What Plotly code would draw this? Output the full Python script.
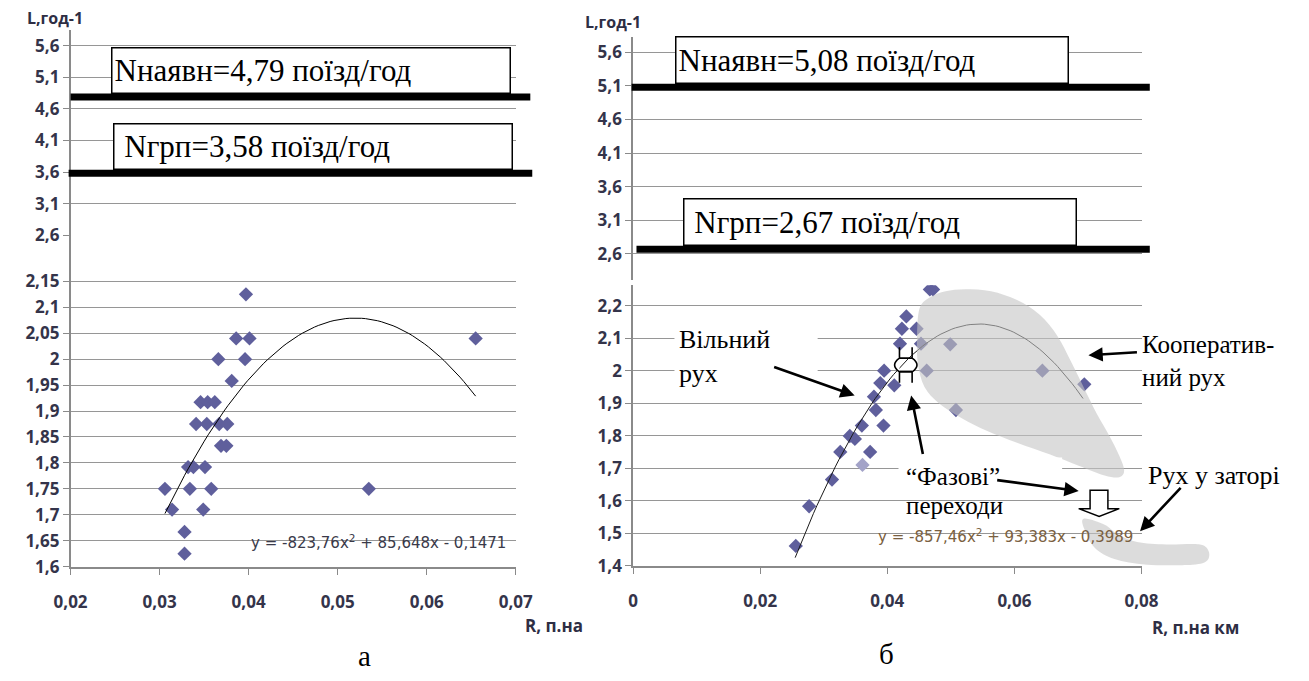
import numpy as np
import plotly.graph_objects as go

W, H = 1309, 681

# ---------------- data ----------------
# chart "а"
left_R = [0.0397, 0.0386, 0.0401, 0.0366, 0.0396, 0.0381, 0.0346, 0.0354, 0.0362,
          0.0341, 0.0353, 0.0367, 0.0376, 0.0369, 0.0375, 0.0332, 0.0338, 0.0351,
          0.0306, 0.0334, 0.0358, 0.0314, 0.0349, 0.0328, 0.0328, 0.0655, 0.0535]
left_L = [2.125, 2.04, 2.04, 2.0, 2.0, 1.958, 1.917, 1.917, 1.917,
          1.875, 1.875, 1.875, 1.875, 1.833, 1.833, 1.792, 1.792, 1.792,
          1.75, 1.75, 1.75, 1.71, 1.71, 1.667, 1.625, 2.04, 1.75]
left_fit = [-823.76, 85.648, -0.1471]
left_fit_span = [0.0306, 0.0655]
left_N_avail = 4.79
left_N_grp = 3.58

# chart "б"
right_R = [0.0467, 0.0472, 0.0430, 0.0423, 0.0446, 0.0420, 0.0453, 0.0499,
           0.0395, 0.0462, 0.0644, 0.0389, 0.0411, 0.0710, 0.0379, 0.0382,
           0.0508, 0.0394, 0.0360, 0.0349, 0.0341, 0.0326, 0.0373, 0.0313,
           0.0277, 0.0256]
right_L = [2.25, 2.25, 2.167, 2.129, 2.129, 2.083, 2.083, 2.081,
           2.0, 2.0, 2.0, 1.962, 1.955, 1.958, 1.92, 1.879,
           1.879, 1.831, 1.831, 1.79, 1.799, 1.75, 1.75, 1.665,
           1.583, 1.461]
right_light_R = [0.0361]
right_light_L = [1.71]
right_fit = [-857.46, 93.383, -0.3989]
right_fit_span = [0.0255, 0.0708]
right_N_avail = 5.08
right_N_grp = 2.67

# ticks
left_xticks = [0.02, 0.03, 0.04, 0.05, 0.06, 0.07]
left_xtext = ["0,02", "0,03", "0,04", "0,05", "0,06", "0,07"]
right_xticks = [0, 0.02, 0.04, 0.06, 0.08]
right_xtext = ["0", "0,02", "0,04", "0,06", "0,08"]
left_low_yticks = [1.6, 1.65, 1.7, 1.75, 1.8, 1.85, 1.9, 1.95, 2.0, 2.05, 2.1, 2.15]
left_low_ytext = ["1,6", "1,65", "1,7", "1,75", "1,8", "1,85", "1,9", "1,95", "2", "2,05", "2,1", "2,15"]
up_yticks = [2.6, 3.1, 3.6, 4.1, 4.6, 5.1, 5.6]
up_ytext = ["2,6", "3,1", "3,6", "4,1", "4,6", "5,1", "5,6"]
right_low_yticks = [1.4, 1.5, 1.6, 1.7, 1.8, 1.9, 2.0, 2.1, 2.2]
right_low_ytext = ["1,4", "1,5", "1,6", "1,7", "1,8", "1,9", "2", "2,1", "2,2"]


# ---------------- helpers ----------------
def X(px):
    return px / W


def Y(py):
    return 1 - py / H


def smooth_path(pts):
    """closed Catmull-Rom spline through pixel points -> paper-coord SVG path"""
    n = len(pts)
    d = f"M{X(pts[0][0]):.5f},{Y(pts[0][1]):.5f}"
    for i in range(n):
        p0, p1, p2, p3 = pts[i - 1], pts[i], pts[(i + 1) % n], pts[(i + 2) % n]
        c1 = (p1[0] + (p2[0] - p0[0]) / 6, p1[1] + (p2[1] - p0[1]) / 6)
        c2 = (p2[0] - (p3[0] - p1[0]) / 6, p2[1] - (p3[1] - p1[1]) / 6)
        d += (f" C{X(c1[0]):.5f},{Y(c1[1]):.5f} {X(c2[0]):.5f},{Y(c2[1]):.5f}"
              f" {X(p2[0]):.5f},{Y(p2[1]):.5f}")
    return d + " Z"


def poly_path(pts):
    return "M" + " L".join(f"{X(a):.5f},{Y(b):.5f}" for a, b in pts) + " Z"


MARK = "#5f5f9c"
TICKFONT = dict(family="Open Sans", size=17, color="#34344a", weight="bold")
SERIF = "Liberation Serif"

fig = go.Figure()

# ---- chart а ----
fig.add_trace(go.Scatter(x=left_R, y=left_L, mode="markers", xaxis="x", yaxis="y",
                         marker=dict(symbol="diamond", size=11, color=MARK)))
lx = np.linspace(left_fit_span[0], left_fit_span[1], 80)
fig.add_trace(go.Scatter(x=lx, y=np.polyval(left_fit, lx), mode="lines", xaxis="x", yaxis="y",
                         line=dict(color="black", width=1)))
# ---- chart б ----
fig.add_trace(go.Scatter(x=right_R, y=right_L, mode="markers", xaxis="x2", yaxis="y3",
                         marker=dict(symbol="diamond", size=11, color=MARK)))
fig.add_trace(go.Scatter(x=right_light_R, y=right_light_L, mode="markers", xaxis="x2", yaxis="y3",
                         marker=dict(symbol="diamond", size=11, color="#a3a3c8")))
rx = np.linspace(right_fit_span[0], right_fit_span[1], 80)
fig.add_trace(go.Scatter(x=rx, y=np.polyval(right_fit, rx), mode="lines", xaxis="x2", yaxis="y3",
                         line=dict(color="#1a1a1a", width=1)))

grid = dict(showgrid=True, gridcolor="#969696", gridwidth=1, zeroline=False,
            showline=True, linecolor="#8a8a8a", linewidth=1.5,
            ticks="outside", ticklen=6, tickcolor="#8a8a8a", tickfont=TICKFONT)
xbase = dict(showgrid=False, zeroline=False, showline=True, linecolor="#8a8a8a", linewidth=1.5,
             ticks="outside", ticklen=7, tickcolor="#8a8a8a", tickfont=TICKFONT,
             ticklabelstandoff=12)

fig.update_layout(
    width=W, height=H, margin=dict(l=0, r=0, t=0, b=0),
    paper_bgcolor="white", plot_bgcolor="white", showlegend=False,
    xaxis=dict(xbase, domain=[X(55), X(512)], range=[0.02, 0.07], anchor="y",
               tickvals=left_xticks, ticktext=left_xtext),
    yaxis=dict(grid, domain=[Y(576), Y(239)], range=[1.6, 2.239], anchor="x",
               tickvals=left_low_yticks, ticktext=left_low_ytext),
    yaxis2=dict(grid, domain=[Y(239), Y(30)], range=[2.6, 5.86], anchor="x",
                tickvals=up_yticks, ticktext=up_ytext),
    xaxis2=dict(xbase, domain=[X(632.5), X(1154.5)], range=[0, 0.08], anchor="y3",
                tickvals=right_xticks, ticktext=right_xtext),
    yaxis3=dict(grid, domain=[Y(575), Y(290)], range=[1.4, 2.2626], anchor="x2",
                tickvals=right_low_yticks, ticktext=right_low_ytext),
    yaxis4=dict(grid, domain=[Y(285), Y(38)], range=[2.205, 5.82], anchor="x2",
                tickvals=up_yticks, ticktext=up_ytext),
)

shapes = []
# thick N lines
for x0, x1, yref, val in [(55, 527, "y2", left_N_avail), (53, 529, "y2", left_N_grp),
                          (631, 1163, "y4", right_N_avail), (636, 1163, "y4", right_N_grp)]:
    shapes.append(dict(type="line", xref="paper", x0=X(x0), x1=X(x1), yref=yref, y0=val, y1=val,
                       line=dict(color="black", width=7), layer="above"))

# grey regions (cooperative motion, congestion)
blob = [(926.7, 313.3), (938.3, 301.7), (953.3, 296), (973.3, 294), (1000, 296), (1026.7, 305),
        (1050, 320), (1068.3, 341.7), (1081.7, 366.7), (1095, 393.3), (1108.3, 420),
        (1121.7, 443.3), (1131.7, 463.3), (1136.7, 478.3), (1131.7, 485), (1116.7, 483.3),
        (1090, 473.3), (1060, 461.7), (1026.7, 450), (996.7, 438.3), (970, 425), (946.7, 410),
        (931.7, 393.3), (925, 370), (924, 343.3)]
tail = [(1095, 527.3), (1116.7, 533.3), (1130, 543), (1150, 551), (1180, 553.5), (1213.3, 553.3),
        (1223.3, 560), (1221.7, 570), (1206.7, 574), (1160, 574), (1126.7, 568.3), (1106.7, 557),
        (1096.7, 540)]
for pts in (blob, tail):
    shapes.append(dict(type="path", xref="paper", yref="paper", path=smooth_path(pts),
                       fillcolor="rgba(196,196,196,0.6)", line=dict(width=0), layer="above"))

# white label backgrounds
for x0, y0, x1, y1 in [(675, 326, 822, 392), (905, 465, 1073, 484)]:
    shapes.append(dict(type="rect", xref="paper", yref="paper", x0=X(x0), x1=X(x1),
                       y0=Y(y1), y1=Y(y0), fillcolor="white", line=dict(width=0), layer="above"))

# hollow block arrow (down)
block = [(1101.7, 498.3), (1120, 498.3), (1120, 517), (1131.7, 517), (1111, 525),
         (1090, 517), (1101.7, 517)]
shapes.append(dict(type="path", xref="paper", yref="paper", path=poly_path(block),
                   fillcolor="white", line=dict(color="black", width=1.5), layer="above"))

# phase transition symbol
sym = (f"M{X(906):.5f},{Y(353):.5f} L{X(906):.5f},{Y(364):.5f} "
       f"Q{X(896):.5f},{Y(371):.5f} {X(906):.5f},{Y(378):.5f} L{X(906):.5f},{Y(389):.5f} "
       f"M{X(919):.5f},{Y(353):.5f} L{X(919):.5f},{Y(364):.5f} "
       f"Q{X(929):.5f},{Y(371):.5f} {X(919):.5f},{Y(378):.5f} L{X(919):.5f},{Y(389):.5f} "
       f"M{X(906):.5f},{Y(364):.5f} L{X(919):.5f},{Y(364):.5f} "
       f"M{X(906):.5f},{Y(378):.5f} L{X(919):.5f},{Y(378):.5f}")
shapes.append(dict(type="path", xref="paper", yref="paper", path=sym,
                   fillcolor="white", line=dict(color="black", width=1.6), layer="above"))
fig.update_layout(shapes=shapes)

ann = []


def nbox(text, xpx, yref, val, w, h):
    ann.append(dict(text=text, xref="paper", x=X(xpx), xanchor="left", yref=yref, y=val,
                    yanchor="bottom", yshift=3.5, showarrow=False, bgcolor="white",
                    bordercolor="black", borderwidth=1.5, borderpad=2, width=w - 7, height=h - 7,
                    align="left", valign="middle",
                    font=dict(family=SERIF, size=31, color="black")))


nbox(f"Nнаявн={str(left_N_avail).replace('.', ',')} поїзд/год", 96.7, "y2", left_N_avail, 400, 47)
nbox(f"\u00a0Nгрп={str(left_N_grp).replace('.', ',')} поїзд/год", 98.3, "y2", left_N_grp, 400, 47)
nbox(f"Nнаявн={str(right_N_avail).replace('.', ',')} поїзд/год", 676, "y4", right_N_avail, 394, 48)
nbox(f"\u00a0Nгрп={str(right_N_grp).replace('.', ',')} поїзд/год", 684, "y4", right_N_grp, 394, 48)


def label(text, xpx, ypx, size=25, anchor="left", family=SERIF, color="black", weight=None, align="left"):
    f = dict(family=family, size=size, color=color)
    if weight:
        f["weight"] = weight
    ann.append(dict(text=text, xref="paper", yref="paper", x=X(xpx), y=Y(ypx), xanchor=anchor,
                    yanchor="middle", showarrow=False, font=f, align=align))


label("Вільний<br>рух", 678, 362, size=26)
label("Кооператив-<br>ний рух", 1153, 367, size=25)
label("“Фазові”", 911, 484, size=25)
label("переходи", 911, 514, size=25)
label("Рух у заторі", 1159, 483, size=26)
label("а", 357, 667, size=29, anchor="center")
label("б", 893, 665, size=29, anchor="center")
label("L,год-1", 8, 18, size=16, family="Open Sans", color="#2e2e44", weight="bold")
label("L,год-1", 581, 22, size=16, family="Open Sans", color="#2e2e44", weight="bold")
label("R, п.на", 551, 636, size=17, anchor="center", family="Open Sans", color="#2e2e44", weight="bold")
label("R, п.на км", 1210, 638, size=17, anchor="center", family="Open Sans", color="#2e2e44", weight="bold")
label("y = -823,76x<sup>2</sup> + 85,648x - 0,1471", 504, 551, size=15, anchor="right",
      family="DejaVu Sans", color="#3a3a4a")
label("y = -857,46x<sup>2</sup> + 93,383x - 0,3989", 882, 545, size=15, anchor="left",
      family="DejaVu Sans", color="#7a6040")

for (tx, ty), (hx, hy) in [((778, 373), (860, 402)), ((1150, 358), (1100, 361)),
                           ((930, 462), (918, 402)), ((1007, 488), (1090, 499)),
                           ((1195, 495), (1153, 540))]:
    ann.append(dict(text="", xref="paper", yref="paper", x=X(hx), y=Y(hy),
                    ax=tx - hx, ay=ty - hy, axref="pixel", ayref="pixel", showarrow=True,
                    arrowhead=2, arrowsize=1.1, arrowwidth=2.6, arrowcolor="black", standoff=0))

fig.update_layout(annotations=ann)
fig.write_html("out.html")
